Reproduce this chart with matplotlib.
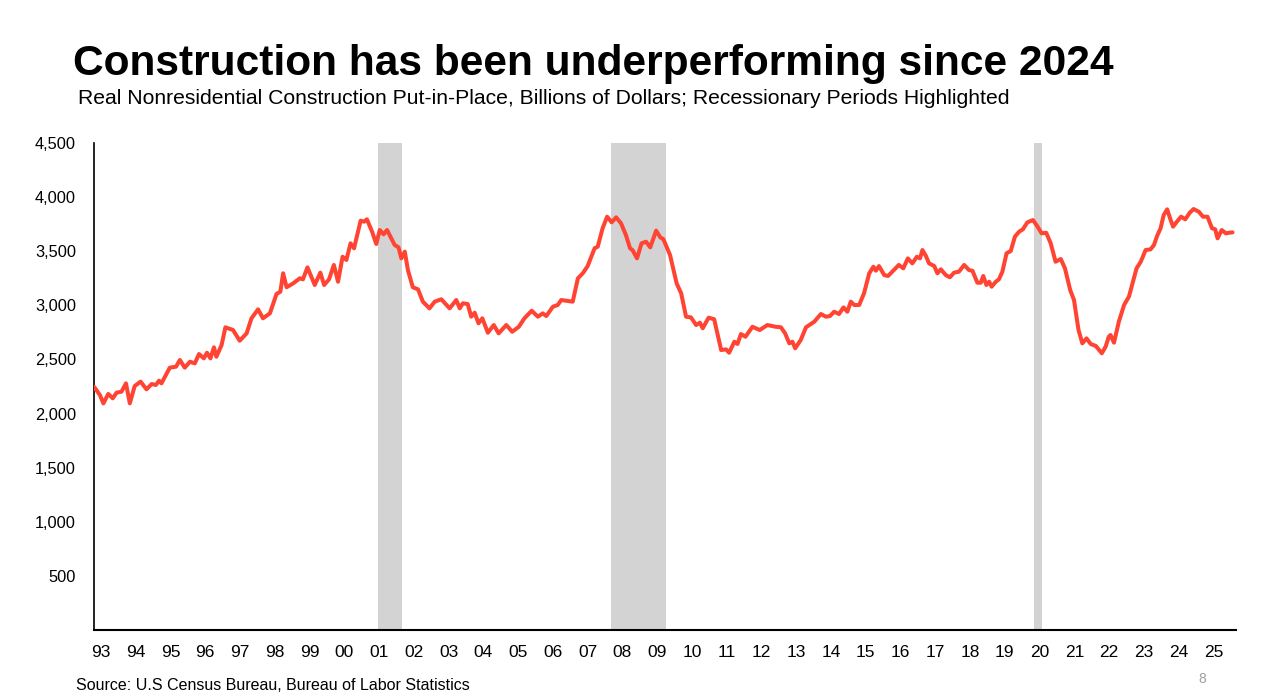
import matplotlib
matplotlib.use("Agg")
import matplotlib.pyplot as plt
from matplotlib.ticker import FuncFormatter

# ---- data ----
years = [
    1993.03, 1993.20, 1993.30, 1993.44, 1993.57, 1993.68, 1993.82, 1993.95, 1994.06, 1994.20,
    1994.37, 1994.54, 1994.69, 1994.81, 1994.90, 1994.97, 1995.21, 1995.39, 1995.50, 1995.64,
    1995.79, 1995.93, 1996.05, 1996.19, 1996.28, 1996.38, 1996.48, 1996.55, 1996.70, 1996.81,
    1997.03, 1997.22, 1997.42, 1997.56, 1997.75, 1997.89, 1998.09, 1998.28, 1998.39, 1998.47,
    1998.57, 1998.76, 1998.95, 1999.04, 1999.17, 1999.38, 1999.54, 1999.65, 1999.79, 1999.93,
    2000.05, 2000.18, 2000.29, 2000.41, 2000.51, 2000.70, 2000.80, 2000.88, 2001.03, 2001.15,
    2001.25, 2001.36, 2001.46, 2001.68, 2001.79, 2001.87, 2001.97, 2002.06, 2002.20, 2002.35,
    2002.49, 2002.68, 2002.83, 2003.02, 2003.26, 2003.45, 2003.55, 2003.64, 2003.78, 2003.88,
    2003.98, 2004.09, 2004.20, 2004.36, 2004.53, 2004.67, 2004.89, 2005.06, 2005.25, 2005.41,
    2005.62, 2005.80, 2005.94, 2006.04, 2006.23, 2006.37, 2006.47, 2006.66, 2006.80, 2006.95,
    2007.09, 2007.23, 2007.43, 2007.52, 2007.66, 2007.79, 2007.92, 2008.05, 2008.19, 2008.33,
    2008.45, 2008.52, 2008.65, 2008.78, 2008.91, 2009.03, 2009.20, 2009.32, 2009.41, 2009.60,
    2009.79, 2009.92, 2010.06, 2010.20, 2010.35, 2010.46, 2010.54, 2010.71, 2010.87, 2011.07,
    2011.21, 2011.30, 2011.45, 2011.54, 2011.64, 2011.77, 2011.97, 2012.18, 2012.40, 2012.64,
    2012.79, 2012.91, 2013.03, 2013.12, 2013.20, 2013.36, 2013.51, 2013.65, 2013.75, 2013.94,
    2014.08, 2014.20, 2014.32, 2014.46, 2014.59, 2014.70, 2014.80, 2014.90, 2015.04, 2015.18,
    2015.33, 2015.45, 2015.52, 2015.61, 2015.76, 2015.87, 2015.99, 2016.18, 2016.31, 2016.44,
    2016.57, 2016.70, 2016.79, 2016.86, 2016.96, 2017.05, 2017.20, 2017.29, 2017.39, 2017.53,
    2017.65, 2017.77, 2017.91, 2018.06, 2018.20, 2018.30, 2018.44, 2018.54, 2018.61, 2018.70,
    2018.78, 2018.85, 2018.97, 2019.06, 2019.16, 2019.28, 2019.40, 2019.52, 2019.64, 2019.75,
    2019.88, 2020.04, 2020.16, 2020.29, 2020.42, 2020.55, 2020.69, 2020.84, 2020.96, 2021.11,
    2021.22, 2021.35, 2021.46, 2021.58, 2021.70, 2021.85, 2022.02, 2022.13, 2022.22, 2022.27,
    2022.37, 2022.51, 2022.66, 2022.80, 2022.89, 2023.02, 2023.14, 2023.28, 2023.42, 2023.52,
    2023.61, 2023.71, 2023.80, 2023.90, 2024.00, 2024.07, 2024.18, 2024.30, 2024.42, 2024.55,
    2024.66, 2024.81, 2024.93, 2025.06, 2025.19, 2025.28, 2025.35, 2025.47, 2025.59, 2025.68,
    2025.78,
]
values = [
    2248, 2171, 2094, 2181, 2141, 2193, 2202, 2279, 2094, 2254,
    2295, 2224, 2273, 2264, 2304, 2279, 2424, 2433, 2495, 2424,
    2479, 2464, 2550, 2510, 2562, 2510, 2612, 2525, 2633, 2797,
    2772, 2673, 2741, 2880, 2963, 2880, 2926, 3105, 3126, 3296,
    3167, 3203, 3250, 3240, 3351, 3188, 3302, 3188, 3240, 3373,
    3218, 3449, 3419, 3573, 3527, 3782, 3773, 3795, 3680, 3567,
    3696, 3656, 3696, 3557, 3536, 3434, 3496, 3326, 3167, 3148,
    3034, 2972, 3034, 3056, 2972, 3049, 2972, 3019, 3012, 2895,
    2932, 2834, 2880, 2747, 2818, 2741, 2818, 2756, 2802, 2880,
    2950, 2895, 2926, 2901, 2987, 3003, 3049, 3040, 3034, 3250,
    3296, 3363, 3527, 3542, 3712, 3819, 3767, 3813, 3758, 3650,
    3527, 3511, 3434, 3573, 3588, 3536, 3690, 3628, 3610, 3465,
    3203, 3111, 2895, 2889, 2818, 2840, 2788, 2886, 2871, 2587,
    2593, 2562, 2664, 2643, 2735, 2710, 2802, 2772, 2818, 2802,
    2797, 2741, 2649, 2664, 2603, 2680, 2797, 2827, 2849, 2920,
    2895, 2901, 2941, 2920, 2981, 2941, 3034, 3003, 3003, 3111,
    3296, 3357, 3320, 3363, 3280, 3271, 3311, 3373, 3342, 3434,
    3388, 3449, 3434, 3511, 3456, 3388, 3363, 3296, 3333, 3280,
    3259, 3302, 3311, 3373, 3326, 3319, 3209, 3209, 3271, 3188,
    3218, 3172, 3218, 3240, 3311, 3481, 3502, 3634, 3680, 3703,
    3767, 3788, 3733, 3665, 3671, 3573, 3403, 3428, 3342, 3142,
    3049, 2772, 2649, 2695, 2643, 2624, 2557, 2618, 2710, 2726,
    2655, 2849, 3003, 3080, 3188, 3342, 3403, 3511, 3517, 3557,
    3641, 3712, 3834, 3887, 3788, 3727, 3773, 3819, 3795, 3856,
    3890, 3865, 3819, 3819, 3712, 3703, 3619, 3696, 3665, 3671,
    3674,
]
recessions = [(2001.19, 2001.90), (2007.91, 2009.49), (2020.07, 2020.30)]
tick_years = list(range(1993, 2026))
tick_labels = [f"{y % 100:02d}" for y in tick_years]
y_ticks = [500, 1000, 1500, 2000, 2500, 3000, 3500, 4000, 4500]

title = "Construction has been underperforming since 2024"
subtitle = "Real Nonresidential Construction Put-in-Place, Billions of Dollars; Recessionary Periods Highlighted"
source = "Source: U.S Census Bureau, Bureau of Labor Statistics"

# ---- figure ----
plt.rcParams['font.family'] = ['Liberation Sans', 'DejaVu Sans']
W, H = 1281, 698
fig = plt.figure(figsize=(W / 100, H / 100), dpi=100)
fig.patch.set_facecolor('white')
ax = fig.add_axes([94 / W, 1 - 630 / H, (1236 - 94) / W, (630 - 143) / H])

for start, end in recessions:
    ax.axvspan(start, end, color='#d3d3d3', lw=0, zorder=1)

ax.plot(years, values, color='#ff4433', lw=2.9, solid_joinstyle='round',
        solid_capstyle='round', zorder=3)

ax.set_xlim(1993.03, 2025.88)
ax.set_ylim(0, 4500)
ax.set_yticks(y_ticks)
ax.yaxis.set_major_formatter(FuncFormatter(lambda v, p: f"{int(v):,}"))
ax.set_xticks([y + 0.23 for y in tick_years])
ax.set_xticklabels(tick_labels)
ax.tick_params(axis='y', length=0, pad=13, labelsize=11.8)
ax.tick_params(axis='x', length=0, pad=11, labelsize=12.5)

for s in ['top', 'right']:
    ax.spines[s].set_visible(False)
for s in ['left', 'bottom']:
    ax.spines[s].set_color('black')
    ax.spines[s].set_linewidth(1.2)
ax.spines['bottom'].set_linewidth(1.5)

fig.text(73 / W, 1 - 64 / H, title, fontsize=30.6, fontweight='bold', ha='left', va='center')
fig.text(78 / W, 1 - 99 / H, subtitle, fontsize=15.2, ha='left', va='center')
fig.text(76 / W, 1 - 686 / H, source, fontsize=11.5, ha='left', va='center')
fig.text(1202 / W, 1 - 679 / H, "8", fontsize=10, color='#a0a0a0', ha='center', va='center')

fig.savefig('out.png', dpi=100, facecolor='white')
